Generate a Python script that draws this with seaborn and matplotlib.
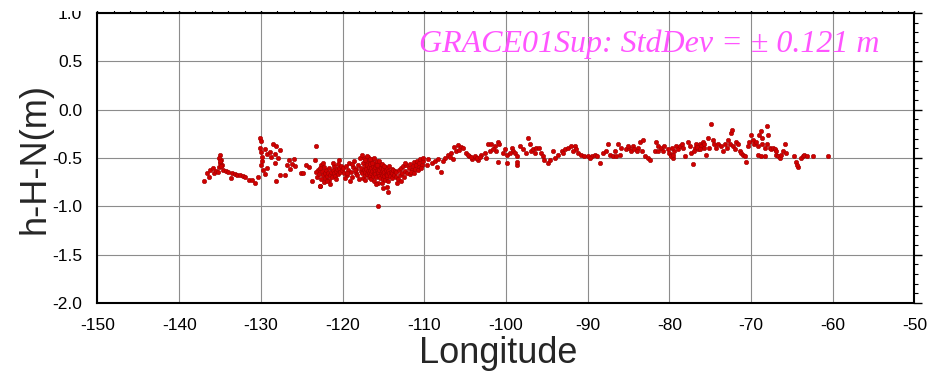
import matplotlib
matplotlib.use("Agg")
import matplotlib.pyplot as plt
from matplotlib.ticker import MultipleLocator
from matplotlib.patches import Rectangle
import numpy as np
import pandas as pd
import seaborn as sns

# valores (longitude, h-H-N em metros), por trecho
lon_a = [-136.9, -136.6, -136.4, -136.2, -135.9, -135.7, -135.5, -135.2, -135.1, -135.0,
         -135.0, -134.9, -134.8, -134.6, -134.3, -134.0, -133.7, -133.5, -133.2, -132.9,
         -132.6, -132.2, -131.9, -131.5, -131.1, -130.7, -130.4, -135.1, -135.0, -134.9]
dh_a = [-0.74, -0.66, -0.70, -0.62, -0.60, -0.65, -0.63, -0.64, -0.59, -0.47,
        -0.55, -0.52, -0.57, -0.62, -0.63, -0.64, -0.71, -0.66, -0.67, -0.68,
        -0.68, -0.69, -0.70, -0.73, -0.73, -0.76, -0.70, -0.50, -0.53, -0.58]

lon_b = [-130.1, -130.0, -130.1, -130.0, -129.9, -129.8, -130.0, -129.7, -129.5, -129.5,
         -129.3, -128.9, -128.5, -128.3, -128.1, -127.6, -128.3, -128.1, -127.6, -127.1,
         -126.8, -126.6, -126.4, -126.0, -126.2, -125.8, -125.1, -124.8, -124.5, -124.1,
         -123.8, -123.2, -123.4, -123.0, -122.8, -122.6, -122.4, -122.2, -129.2, -128.7,
         -127.9]
dh_b = [-0.29, -0.32, -0.40, -0.44, -0.49, -0.53, -0.57, -0.62, -0.67, -0.41,
        -0.46, -0.44, -0.36, -0.46, -0.38, -0.42, -0.55, -0.74, -0.68, -0.68,
        -0.57, -0.52, -0.61, -0.51, -0.56, -0.58, -0.66, -0.65, -0.57, -0.59,
        -0.74, -0.38, -0.52, -0.62, -0.79, -0.57, -0.55, -0.66, -0.60, -0.49,
        -0.50]

lon_c1 = [-123.3, -123.1, -122.9, -122.8, -122.6, -122.5, -122.4, -122.3, -122.2, -122.1,
          -122.0, -121.9, -121.8, -121.7, -121.6, -121.5, -121.4, -121.3, -121.2, -121.1,
          -121.0, -120.9, -120.8, -120.7, -120.6, -120.5, -120.4, -120.3, -120.2, -120.1,
          -122.7, -122.3, -121.9, -121.5, -121.2, -120.8, -120.4]
dh_c1 = [-0.64, -0.70, -0.67, -0.79, -0.72, -0.63, -0.68, -0.75, -0.66, -0.71,
         -0.62, -0.69, -0.65, -0.73, -0.60, -0.68, -0.64, -0.70, -0.62, -0.66,
         -0.58, -0.69, -0.63, -0.61, -0.67, -0.56, -0.60, -0.64, -0.58, -0.62,
         -0.60, -0.59, -0.74, -0.77, -0.55, -0.72, -0.52]

lon_c2 = [-119.9, -119.8, -119.6, -119.5, -119.3, -119.2, -119.0, -118.9, -118.7, -118.6,
          -118.4, -118.3, -118.1, -118.0, -117.9, -117.8, -119.7, -119.4, -119.1, -118.8,
          -118.5, -118.2]
dh_c2 = [-0.60, -0.65, -0.58, -0.68, -0.62, -0.55, -0.64, -0.70, -0.59, -0.53,
         -0.66, -0.61, -0.57, -0.72, -0.50, -0.63, -0.71, -0.66, -0.74, -0.56,
         -0.62, -0.68]

lon_c3 = [-117.7, -117.6, -117.5, -117.5, -117.4, -117.4, -117.3, -117.3, -117.2, -117.2,
          -117.1, -117.1, -117.0, -117.0, -116.9, -116.9, -116.8, -116.8, -116.8, -116.7,
          -116.7, -116.6, -116.6, -116.5, -116.5, -116.5, -116.4, -116.4, -116.3, -116.3,
          -116.2, -116.2, -116.1, -116.1, -116.0, -116.0, -116.0, -115.9, -115.9, -115.8,
          -115.8, -115.7, -115.7, -115.7, -115.6, -115.6, -115.5, -115.5, -115.4, -115.4,
          -115.3, -115.3, -115.2, -115.2, -115.1, -115.1, -115.0, -115.0, -114.9, -114.9,
          -114.8, -114.8, -114.7, -114.7, -114.6, -114.6, -114.5, -114.5, -114.4, -114.4,
          -114.3, -114.3, -114.2, -114.1, -114.0, -114.0, -113.9, -113.8, -113.7, -113.6,
          -117.6, -117.3, -117.0, -116.7, -116.4, -116.1, -115.8, -115.5, -115.2, -114.9,
          -115.2, -115.0, -114.4, -114.6, -115.9, -115.7]
dh_c3 = [-0.60, -0.66, -0.55, -0.71, -0.62, -0.50, -0.68, -0.58, -0.64, -0.73,
         -0.53, -0.61, -0.67, -0.57, -0.49, -0.63, -0.70, -0.59, -0.65, -0.54,
         -0.62, -0.68, -0.56, -0.60, -0.66, -0.72, -0.51, -0.63, -0.58, -0.69,
         -0.61, -0.55, -0.65, -0.74, -0.59, -0.63, -0.67, -0.57, -0.70, -0.62,
         -0.53, -0.66, -0.60, -0.76, -0.64, -0.58, -0.69, -0.62, -0.56, -0.71,
         -0.65, -0.60, -0.68, -0.63, -0.58, -0.72, -0.66, -0.61, -0.69, -0.64,
         -0.59, -0.73, -0.67, -0.62, -0.70, -0.65, -0.60, -0.68, -0.63, -0.74,
         -0.66, -0.58, -0.69, -0.64, -0.61, -0.71, -0.66, -0.62, -0.68, -0.63,
         -0.47, -0.52, -0.48, -0.51, -0.55, -0.50, -0.57, -0.53, -0.56, -0.58,
         -0.76, -0.81, -0.85, -0.80, -0.77, -1.00]

lon_c4 = [-113.5, -113.4, -113.2, -113.1, -113.0, -112.9, -112.7, -112.6, -112.5, -112.3,
          -112.2, -112.1, -111.9, -111.8, -111.7, -111.5, -111.4, -111.3, -111.1, -111.0,
          -110.9, -110.7, -110.6, -110.5, -110.3, -110.2, -110.1, -113.3, -112.8, -112.4,
          -111.6, -111.2, -110.8, -110.4]
dh_c4 = [-0.70, -0.64, -0.72, -0.62, -0.68, -0.60, -0.66, -0.58, -0.70, -0.63,
         -0.57, -0.65, -0.60, -0.67, -0.56, -0.62, -0.58, -0.54, -0.61, -0.57,
         -0.53, -0.59, -0.55, -0.51, -0.57, -0.53, -0.50, -0.76, -0.74, -0.55,
         -0.64, -0.66, -0.62, -0.60]

lon_d = [-109.1, -108.7, -108.3, -107.9, -107.5, -107.1, -106.7, -106.5, -106.3, -105.9,
         -105.5, -105.3, -104.9, -104.5, -104.1, -103.7, -109.5, -109.7, -108.5, -107.7,
         -106.9, -106.1, -105.7, -104.7, -104.3, -103.8, -103.4, -103.0, -102.6, -102.4,
         -102.2, -101.8, -101.4, -101.2, -101.0, -100.8, -101.0, -100.1, -99.9, -99.9,
         -103.6, -103.2, -102.0, -101.6, -100.3]
dh_d = [-0.55, -0.53, -0.51, -0.64, -0.50, -0.47, -0.45, -0.51, -0.39, -0.37,
        -0.39, -0.40, -0.45, -0.48, -0.51, -0.50, -0.51, -0.57, -0.59, -0.53,
        -0.49, -0.43, -0.42, -0.47, -0.49, -0.48, -0.52, -0.47, -0.45, -0.50,
        -0.36, -0.35, -0.38, -0.43, -0.33, -0.35, -0.54, -0.41, -0.47, -0.55,
        -0.50, -0.49, -0.43, -0.41, -0.45]

lon_e = [-99.3, -99.1, -98.9, -98.7, -98.7, -98.7, -99.5, -98.3, -97.9, -97.5,
         -97.3, -97.1, -96.9, -96.7, -96.3, -95.9, -95.7, -95.5, -95.3, -94.8,
         -94.6, -94.2, -94.0, -93.6, -93.2, -92.8, -92.4, -92.0, -91.6, -91.4,
         -91.2, -90.8, -90.4, -90.0, -89.5, -89.1, -88.5, -88.1, -87.7, -87.5,
         -87.3, -86.9, -86.7, -93.0, -91.8, -89.7, -88.9, -96.5]
dh_e = [-0.40, -0.43, -0.45, -0.48, -0.57, -0.54, -0.45, -0.38, -0.41, -0.45,
        -0.29, -0.36, -0.43, -0.41, -0.40, -0.40, -0.45, -0.48, -0.52, -0.55,
        -0.52, -0.43, -0.50, -0.47, -0.43, -0.41, -0.40, -0.38, -0.38, -0.41,
        -0.45, -0.47, -0.48, -0.48, -0.48, -0.47, -0.55, -0.45, -0.43, -0.36,
        -0.47, -0.48, -0.43, -0.45, -0.43, -0.50, -0.48, -0.45]

lon_f = [-86.5, -86.3, -85.9, -85.3, -84.9, -84.7, -84.5, -84.3, -83.8, -83.6,
         -83.2, -83.4, -83.0, -82.6, -82.4, -81.8, -81.6, -81.4, -81.0, -80.8,
         -80.6, -80.2, -80.0, -79.8, -79.6, -79.4, -79.2, -78.9, -78.7, -78.5,
         -78.1, -77.7, -77.5, -77.3, -77.1, -76.9, -76.7, -76.5, -76.3, -76.1,
         -75.9, -75.7, -75.5, -75.3, -75.1, -74.9, -74.7, -74.5, -74.3, -74.1,
         -73.7, -73.2, -72.8, -72.6, -72.4, -72.35, -72.2, -72.0, -71.8, -71.6,
         -71.4, -71.2, -71.0, -70.8, -70.6, -70.4, -70.2, -70.0, -69.8, -69.6,
         -79.85, -79.7, -79.5, -77.0, -76.6, -76.2, -75.8, -86.1, -85.1, -84.0,
         -81.4, -78.3, -73.4, -73.0]
dh_f = [-0.48, -0.36, -0.40, -0.41, -0.40, -0.43, -0.38, -0.41, -0.40, -0.33,
        -0.31, -0.43, -0.48, -0.50, -0.52, -0.43, -0.33, -0.38, -0.40, -0.43,
        -0.38, -0.41, -0.45, -0.47, -0.50, -0.43, -0.38, -0.41, -0.38, -0.35,
        -0.48, -0.33, -0.38, -0.45, -0.56, -0.40, -0.36, -0.41, -0.35, -0.38,
        -0.33, -0.40, -0.47, -0.29, -0.40, -0.15, -0.31, -0.36, -0.40, -0.35,
        -0.38, -0.36, -0.31, -0.35, -0.24, -0.21, -0.38, -0.41, -0.33, -0.35,
        -0.43, -0.45, -0.47, -0.48, -0.54, -0.38, -0.33, -0.26, -0.31, -0.36,
        -0.48, -0.40, -0.47, -0.43, -0.39, -0.41, -0.36, -0.47, -0.38, -0.43,
        -0.43, -0.40, -0.43, -0.40]

lon_g = [-69.4, -69.2, -69.0, -68.8, -68.6, -68.1, -67.9, -68.1, -67.7, -67.5,
         -67.3, -67.1, -66.9, -66.7, -66.5, -66.3, -66.1, -65.9, -65.7, -69.2,
         -68.8, -68.3, -64.7, -64.5, -64.3, -63.9, -63.7, -63.5, -63.2, -62.4,
         -60.6, -64.35, -68.7, -68.3, -66.9]
dh_g = [-0.33, -0.38, -0.26, -0.22, -0.29, -0.17, -0.26, -0.35, -0.40, -0.41,
        -0.40, -0.41, -0.47, -0.48, -0.50, -0.47, -0.43, -0.35, -0.45, -0.47,
        -0.48, -0.48, -0.48, -0.54, -0.59, -0.50, -0.48, -0.47, -0.48, -0.48,
        -0.48, -0.57, -0.36, -0.40, -0.43]

df = pd.DataFrame({
    "lon": lon_a + lon_b + lon_c1 + lon_c2 + lon_c3 + lon_c4 + lon_d + lon_e + lon_f + lon_g,
    "dh": dh_a + dh_b + dh_c1 + dh_c2 + dh_c3 + dh_c4 + dh_d + dh_e + dh_f + dh_g,
})

sns.set_style("white")
plt.rcParams["font.family"] = ["Liberation Sans", "DejaVu Sans"]
plt.rcParams["axes.unicode_minus"] = False

fig = plt.figure(figsize=(9.48, 3.75), dpi=100)
ax = fig.add_axes([0.1028, 0.192, 0.8618, 0.7733])

sns.scatterplot(data=df, x="lon", y="dh", ax=ax, color="#d00000", edgecolor="#a00000",
                s=10, linewidth=0.4, zorder=3)

ax.set_xlim(-150, -50)
ax.set_ylim(-2.0, 1.0)
ax.xaxis.set_major_locator(MultipleLocator(10))
ax.xaxis.set_minor_locator(MultipleLocator(2))
ax.yaxis.set_minor_locator(MultipleLocator(0.1))
ax.set_yticks(np.arange(-2.0, 1.01, 0.5))
ax.set_yticklabels([f"{v:.1f}" for v in np.arange(-2.0, 1.01, 0.5)])
ax.grid(True, which="major", color="#8c8c8c", linewidth=0.8, zorder=0)
ax.tick_params(which="both", direction="out", top=True, right=True,
               labeltop=False, labelright=False, colors="black", labelsize=12.5)
ax.tick_params(which="major", length=6, width=1.0, pad=5)
ax.tick_params(which="minor", length=3, width=0.8)
for sp in ax.spines.values():
    sp.set_linewidth(1.5)
    sp.set_color("black")

ax.set_xlabel("Longitude", fontsize=26, labelpad=2)
ax.xaxis.label.set_x(0.49)
ax.set_ylabel("h-H-N(m)", fontsize=26, labelpad=0)

ax.text(-110.6, 0.60, "GRACE01Sup: StdDev = \u00b1 0.121 m", color="#ff55ff",
        fontsize=23, fontstyle="italic", family=["Liberation Serif", "DejaVu Serif"],
        ha="left", va="baseline")

# a imagem original esta cortada logo acima da moldura
fig.patches.append(Rectangle((0, 1 - 11 / 375), 1, 11 / 375, transform=fig.transFigure,
                             facecolor="white", edgecolor="none", zorder=10))

fig.savefig("out.png", dpi=100)
